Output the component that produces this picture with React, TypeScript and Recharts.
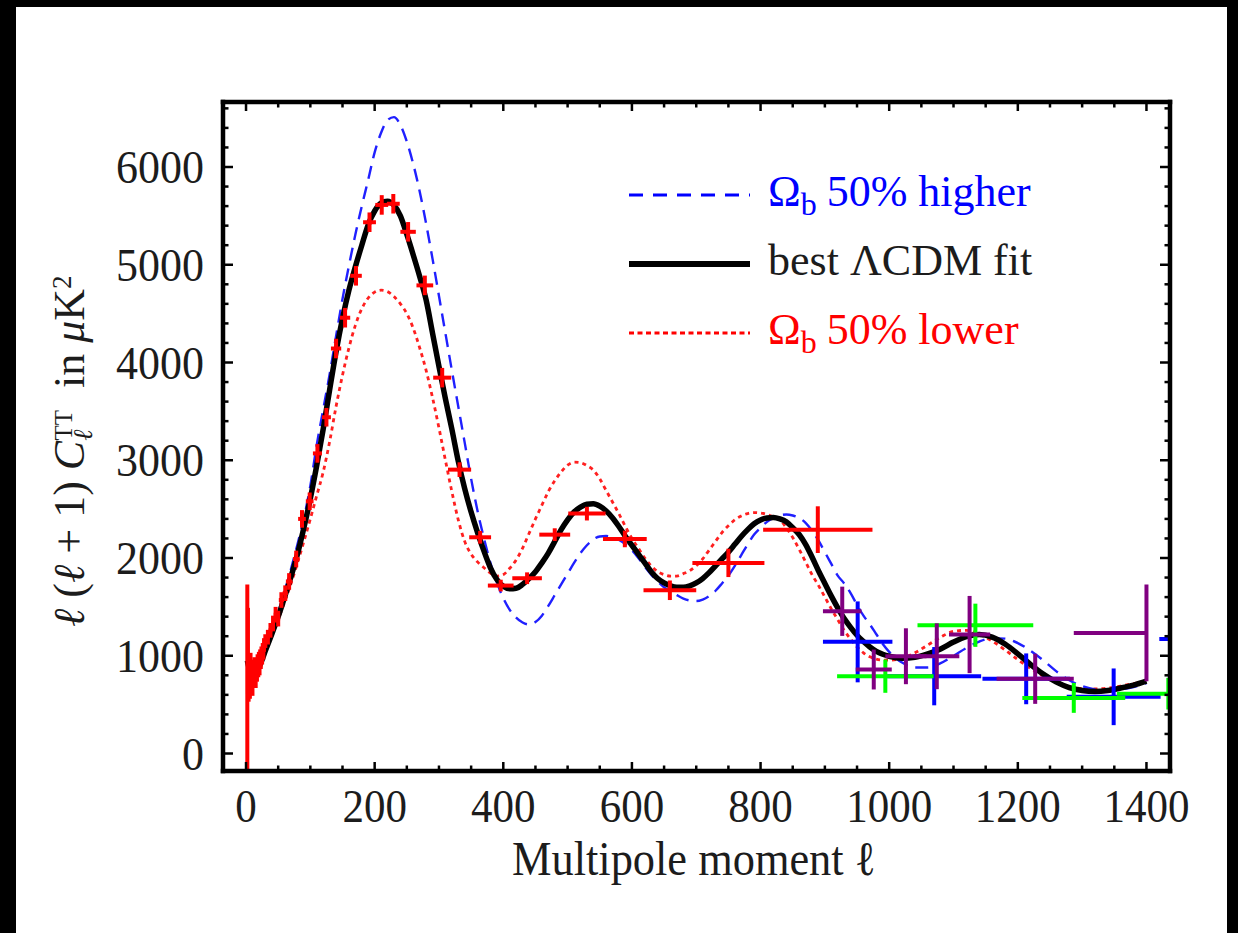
import React from 'react';
import { ComposedChart, Line, Scatter, ErrorBar, XAxis, YAxis, Legend } from 'recharts';

// ---------- data ----------
const X_TICKS = [0, 50, 100, 150, 200, 250, 300, 350, 400, 450, 500, 550, 600, 650, 700, 750, 800, 850, 900, 950, 1000, 1050, 1100, 1150, 1200, 1250, 1300, 1350, 1400];
const Y_TICKS = [0, 200, 400, 600, 800, 1000, 1200, 1400, 1600, 1800, 2000, 2200, 2400, 2600, 2800, 3000, 3200, 3400, 3600, 3800, 4000, 4200, 4400, 4600, 4800, 5000, 5200, 5400, 5600, 5800, 6000, 6200, 6400, 6600];

// best LambdaCDM fit  [l, l(l+1)C_l]
const bestFitCurve = [
  [2, 950], [5, 870], [10, 820], [15, 830], [20, 880], [25, 960], [30, 1050], [40, 1220], [50, 1400], [60, 1600],
  [70, 1810], [80, 2040], [90, 2310], [100, 2610], [110, 2950], [120, 3320], [130, 3720], [140, 4110], [150, 4450], [160, 4740],
  [170, 4980], [180, 5200], [190, 5410], [200, 5550], [210, 5630], [220, 5650], [230, 5610], [240, 5500], [250, 5310], [260, 5100],
  [270, 4880], [280, 4640], [290, 4300], [300, 3960], [310, 3630], [320, 3320], [330, 2990], [340, 2710], [350, 2470], [360, 2260],
  [370, 2070], [380, 1900], [390, 1780], [400, 1710], [410, 1685], [420, 1690], [430, 1730], [440, 1790], [450, 1860], [460, 1950],
  [470, 2050], [480, 2170], [490, 2290], [500, 2390], [510, 2470], [520, 2520], [530, 2550], [540, 2555], [550, 2530], [560, 2480],
  [570, 2410], [580, 2320], [590, 2220], [600, 2130], [610, 2040], [620, 1950], [630, 1860], [640, 1790], [650, 1745], [660, 1715],
  [670, 1700], [680, 1700], [690, 1715], [700, 1745], [710, 1790], [720, 1850], [730, 1920], [740, 1990], [750, 2060], [760, 2140],
  [770, 2220], [780, 2290], [790, 2350], [800, 2390], [810, 2410], [820, 2415], [830, 2400], [840, 2370], [850, 2310], [860, 2240],
  [870, 2140], [880, 2010], [890, 1870], [900, 1740], [910, 1610], [920, 1490], [930, 1380], [940, 1290], [950, 1210], [960, 1145],
  [970, 1090], [980, 1045], [990, 1015], [1000, 995], [1020, 975], [1040, 985], [1060, 1020], [1080, 1070], [1100, 1140], [1120, 1195],
  [1140, 1217], [1160, 1190], [1180, 1120], [1200, 1020], [1220, 910], [1240, 810], [1260, 730], [1280, 675], [1300, 645], [1320, 635],
  [1340, 645], [1360, 670], [1380, 700], [1400, 740],
];

// Omega_b 50% higher
const higherCurve = [
  [2, 950], [5, 870], [10, 820], [15, 830], [20, 880], [25, 965], [30, 1060], [40, 1240], [50, 1440], [60, 1660],
  [70, 1890], [80, 2140], [90, 2410], [100, 2740], [110, 3160], [120, 3520], [130, 3880], [140, 4270], [150, 4650], [160, 4990],
  [170, 5310], [180, 5600], [190, 5870], [200, 6150], [210, 6350], [220, 6480], [230, 6510], [240, 6430], [250, 6260], [260, 6030],
  [270, 5750], [280, 5420], [290, 5060], [300, 4680], [310, 4300], [320, 3920], [330, 3550], [340, 3180], [350, 2810], [360, 2480],
  [370, 2200], [380, 1950], [390, 1750], [400, 1590], [410, 1470], [420, 1390], [430, 1340], [440, 1320], [450, 1345], [460, 1410],
  [470, 1510], [480, 1620], [490, 1730], [500, 1840], [510, 1950], [520, 2050], [530, 2130], [540, 2190], [550, 2220], [560, 2225],
  [570, 2210], [580, 2185], [590, 2140], [600, 2080], [610, 2000], [620, 1910], [630, 1830], [640, 1760], [650, 1700], [660, 1660],
  [670, 1620], [680, 1585], [690, 1565], [700, 1560], [710, 1575], [720, 1610], [730, 1665], [740, 1740], [750, 1820], [760, 1920],
  [770, 2030], [780, 2140], [790, 2240], [800, 2310], [810, 2370], [820, 2410], [830, 2435], [840, 2445], [850, 2435], [860, 2410],
  [870, 2360], [880, 2280], [890, 2180], [900, 2060], [910, 1940], [920, 1820], [930, 1740], [940, 1640], [950, 1520], [960, 1410],
  [970, 1320], [980, 1220], [990, 1120], [1000, 1040], [1020, 930], [1040, 880], [1060, 880], [1080, 925], [1100, 1000], [1120, 1080],
  [1140, 1145], [1160, 1180], [1180, 1175], [1200, 1130], [1220, 1050], [1240, 950], [1260, 840], [1280, 750], [1300, 690], [1320, 655],
  [1340, 645], [1360, 655], [1380, 680], [1400, 720],
];

// Omega_b 50% lower
const lowerCurve = [
  [2, 950], [5, 870], [10, 820], [15, 830], [20, 875], [25, 950], [30, 1040], [40, 1200], [50, 1370], [60, 1550],
  [70, 1740], [80, 1950], [90, 2170], [100, 2400], [110, 2640], [120, 2880], [130, 3190], [140, 3550], [150, 3870], [160, 4150],
  [170, 4380], [180, 4550], [190, 4660], [200, 4720], [210, 4740], [220, 4725], [230, 4675], [240, 4600], [250, 4500], [260, 4350],
  [270, 4150], [280, 3920], [290, 3640], [300, 3330], [310, 3000], [320, 2680], [330, 2390], [340, 2170], [350, 2040], [360, 1960],
  [370, 1900], [380, 1845], [390, 1815], [400, 1830], [410, 1895], [420, 1980], [430, 2100], [440, 2250], [450, 2400], [460, 2540],
  [470, 2680], [480, 2790], [490, 2880], [500, 2950], [510, 2980], [520, 2975], [530, 2945], [540, 2900], [550, 2810], [560, 2690],
  [570, 2570], [580, 2450], [590, 2320], [600, 2200], [610, 2100], [620, 2000], [630, 1920], [640, 1860], [650, 1830], [660, 1815],
  [670, 1815], [680, 1840], [690, 1870], [700, 1920], [710, 1990], [720, 2080], [730, 2170], [740, 2260], [750, 2330], [760, 2390],
  [770, 2430], [780, 2455], [790, 2465], [800, 2460], [810, 2445], [820, 2420], [830, 2390], [840, 2310], [850, 2210], [860, 2090],
  [870, 1960], [880, 1830], [890, 1720], [900, 1600], [910, 1480], [920, 1370], [930, 1260], [940, 1170], [950, 1090], [960, 1030],
  [970, 990], [980, 965], [990, 955], [1000, 955], [1020, 975], [1040, 1030], [1060, 1110], [1080, 1190], [1100, 1250], [1120, 1260],
  [1140, 1220], [1160, 1150], [1180, 1060], [1200, 960], [1220, 870], [1240, 790], [1260, 725], [1280, 685], [1300, 665], [1320, 660],
  [1340, 670], [1360, 690], [1380, 715], [1400, 740],
];

// measurements [l, value, half-width in l, half-height in value]
const wmapPoints = [
  [2, 780, 0, 950], [3, 1050, 0, 440], [4, 760, 0, 230], [5, 850, 0, 170], [6, 700, 0, 140],
  [7, 900, 0, 130], [8, 760, 0, 120], [9, 830, 0, 110], [10, 700, 0, 110], [11, 860, 0, 100],
  [12, 780, 0, 100], [13, 890, 0, 95], [14, 800, 0, 95], [15, 760, 0, 90], [16, 880, 0, 90],
  [17, 820, 0, 85], [18, 930, 0, 85], [19, 860, 0, 80], [20, 960, 0, 80], [21, 880, 0, 80],
  [22, 990, 0, 75], [23, 940, 0, 75], [24, 1020, 0, 75], [25, 980, 0, 70], [26, 1060, 0, 70],
  [27, 1030, 0, 70], [28, 1110, 0, 70], [30, 1150, 0, 70],
  [34, 1190, 3, 75], [38, 1260, 3, 75], [42, 1330, 3, 80], [46, 1420, 3, 80], [50, 1380, 3, 80],
  [55, 1570, 4, 80], [61, 1640, 4, 80], [67, 1760, 5, 85], [78, 1990, 5, 85], [87, 2400, 6, 90],
  [99, 2580, 6, 90], [111, 3070, 7, 95], [125, 3440, 7, 95], [140, 4143, 8, 100], [154, 4458, 8, 100],
  [171, 4887, 9, 100], [192, 5435, 10, 100], [211, 5612, 10, 100], [229, 5624, 10, 100], [252, 5337, 12, 100],
  [278, 4789, 13, 100], [305, 3845, 14, 100], [332, 2904, 18, 75], [364, 2212, 17, 65], [396, 1718, 20, 60],
  [437, 1793, 23, 60], [480, 2239, 24, 65], [530, 2454, 29, 70], [589, 2195, 34, 85], [659, 1670, 41, 100],
  [750, 1950, 56, 145], [889, 2290, 85, 239],
];
const bluePoints = [
  [951, 1142, 54, 414], [1070, 791, 73, 298], [1213, 764, 68, 260], [1349, 580, 73, 290], [1480, 1172, 60, 300],
];
const greenPoints = [
  [994, 791, 75, 170], [1134, 1312, 90, 221], [1287, 569, 80, 153], [1434, 612, 80, 162],
];
const purplePoints = [
  [927, 1455, 30, 252], [976, 859, 28, 204], [1026, 995, 32, 286], [1074, 995, 35, 337],
  [1125, 1217, 32, 395], [1227, 764, 60, 256], [1400, 1234, [113, 0], 495],
];

// ---------- helpers ----------
const toLine = (arr: number[][]) => arr.map(([l, v]) => ({ l, v }));
const toErr = (arr: any[][]) => arr.map(([l, v, ex, ey]) => ({ l, v, ex, ey }));

const SERIF = '"Liberation Serif", "Times New Roman", Times, serif';
const INK = '#1c1c1c';
const RED = '#ff0000';
const BLUE = '#0000ff';
const GREEN = '#00ff00';
const PURPLE = '#800080';

// plot frame (px)
const PLOT_L = 223;
const PLOT_R = 1170;
const PLOT_T = 102;
const PLOT_B = 771;

const X_DOMAIN: [number, number] = [-35.8, 1436.6];
const Y_DOMAIN: [number, number] = [-179, 6665];
const AXIS_LINE = { stroke: '#000', strokeWidth: 4.5, strokeLinecap: 'square' as const };

const XBottomTick = (p: any) => {
  const { x, y, payload } = p;
  const v = payload.value;
  const major = v % 200 === 0;
  const s = String(v);
  return (
    <g>
      <line x1={x} x2={x} y1={y} y2={y - (major ? 9 : 5.5)} stroke="#000" strokeWidth={2.5} />
      {major && (
        <text x={x} y={y + 51} textAnchor="middle" fontFamily={SERIF} fontSize={46} fill={INK}
          textLength={s.length * 21.5} lengthAdjust="spacingAndGlyphs">{s}</text>
      )}
    </g>
  );
};
const XTopTick = (p: any) => {
  const { x, y, payload } = p;
  const major = payload.value % 200 === 0;
  return <line x1={x} x2={x} y1={y} y2={y + (major ? 9 : 5.5)} stroke="#000" strokeWidth={2.5} />;
};
const YLeftTick = (p: any) => {
  const { x, y, payload } = p;
  const v = payload.value;
  const major = v % 1000 === 0;
  const s = String(v);
  return (
    <g>
      <line x1={x} x2={x + (major ? 10 : 5.5)} y1={y} y2={y} stroke="#000" strokeWidth={2.5} />
      {major && (
        <text x={x - 19} y={y + 16} textAnchor="end" fontFamily={SERIF} fontSize={46} fill={INK}
          textLength={s.length * 22} lengthAdjust="spacingAndGlyphs">{s}</text>
      )}
    </g>
  );
};
const YRightTick = (p: any) => {
  const { x, y, payload } = p;
  const major = payload.value % 1000 === 0;
  return <line x1={x} x2={x - (major ? 10 : 5.5)} y1={y} y2={y} stroke="#000" strokeWidth={2.5} />;
};

const renderXTitle = () => (
  <text x={694} y={875} textAnchor="middle" fontFamily={SERIF} fontSize={48} fill={INK}
    textLength={364} lengthAdjust="spacingAndGlyphs">
    {'Multipole moment ℓ'}
  </text>
);

const renderYTitle = () => (
  <text transform="translate(84,627) rotate(-90)" fontFamily={SERIF} fontSize={44} fill={INK}>
    <tspan fontStyle="italic">ℓ</tspan>
    <tspan>{' ('}</tspan>
    <tspan fontStyle="italic">ℓ</tspan>
    <tspan>{' + 1) '}</tspan>
    <tspan fontStyle="italic">C</tspan>
    <tspan fontStyle="italic" fontSize={27} dy={8}>ℓ</tspan>
    <tspan fontSize={25} dx={-11} dy={-20.5}>TT</tspan>
    <tspan dy={12.5}>{'\u00a0\u00a0in\u00a0'}</tspan>
    <tspan fontStyle="italic">μ</tspan>
    <tspan>K</tspan>
    <tspan fontSize={27} dy={-13}>2</tspan>
  </text>
);

const renderLegend = () => (
  <svg width={470} height={210} style={{ display: 'block', overflow: 'visible' }}>
    <line x1={9} x2={130} y1={35} y2={35} stroke={BLUE} strokeWidth={3} strokeDasharray="14 10" />
    <text x={148} y={46} fontFamily={SERIF} fontSize={44} fill={BLUE}>
      Ω<tspan fontSize={32} dy={9}>b</tspan><tspan dx={10} dy={-9}>50% higher</tspan>
    </text>
    <line x1={9} x2={130} y1={104} y2={104} stroke="#000" strokeWidth={6} />
    <text x={148} y={115} fontFamily={SERIF} fontSize={44} fill={INK}>best ΛCDM fit</text>
    <line x1={9} x2={130} y1={173} y2={173} stroke={RED} strokeWidth={3} strokeDasharray="5 3.5" />
    <text x={148} y={184} fontFamily={SERIF} fontSize={44} fill={RED}>
      Ω<tspan fontSize={32} dy={9}>b</tspan><tspan dx={10} dy={-9}>50% lower</tspan>
    </text>
  </svg>
);

const NoShape = () => <g />;

export default function App() {
  const best = toLine(bestFitCurve);
  const hi = toLine(higherCurve);
  const lo = toLine(lowerCurve);
  const sets = [
    { key: 'wmap', data: toErr(wmapPoints), color: RED },
    { key: 'blue', data: toErr(bluePoints), color: BLUE },
    { key: 'green', data: toErr(greenPoints), color: GREEN },
    { key: 'purple', data: toErr(purplePoints), color: PURPLE },
  ];
  return (
    <div style={{ position: 'absolute', left: 0, top: 0, width: 1238, height: 933, background: '#fff', overflow: 'hidden' }}>
      <style>{`.recharts-errorBars, .recharts-errorBar { clip-path: url(#plotClipArea); }`}</style>
      <svg width={0} height={0} style={{ position: 'absolute' }}>
        <defs>
          <clipPath id="plotClipArea" clipPathUnits="userSpaceOnUse">
            <rect x={PLOT_L} y={PLOT_T} width={PLOT_R - PLOT_L} height={PLOT_B - PLOT_T} />
          </clipPath>
        </defs>
      </svg>
      <div style={{ position: 'absolute', left: 0, top: 0 }}>
        <ComposedChart width={1238} height={933}
          margin={{ top: PLOT_T - 1, right: 1238 - PLOT_R - 1, bottom: 933 - PLOT_B - 1, left: PLOT_L - 1 }}>
          <XAxis xAxisId="b" dataKey="l" type="number" orientation="bottom" domain={X_DOMAIN} allowDataOverflow
            ticks={X_TICKS} interval={0} tickSize={0} tickMargin={0} tickLine={false} axisLine={AXIS_LINE}
            tick={(p: any) => <XBottomTick {...p} />} height={1} label={renderXTitle} />
          <XAxis xAxisId="t" dataKey="l" type="number" orientation="top" domain={X_DOMAIN} allowDataOverflow
            ticks={X_TICKS} interval={0} tickSize={0} tickMargin={0} tickLine={false} axisLine={AXIS_LINE}
            tick={(p: any) => <XTopTick {...p} />} height={1} />
          <YAxis yAxisId="l" dataKey="v" type="number" orientation="left" domain={Y_DOMAIN} allowDataOverflow
            ticks={Y_TICKS} interval={0} tickSize={0} tickMargin={0} tickLine={false} axisLine={AXIS_LINE}
            tick={(p: any) => <YLeftTick {...p} />} width={1} label={renderYTitle} />
          <YAxis yAxisId="r" dataKey="v" type="number" orientation="right" domain={Y_DOMAIN} allowDataOverflow
            ticks={Y_TICKS} interval={0} tickSize={0} tickMargin={0} tickLine={false} axisLine={AXIS_LINE}
            tick={(p: any) => <YRightTick {...p} />} width={1} />
          <Line xAxisId="b" yAxisId="l" data={lo} dataKey="v" type="monotone" stroke="#ff2020" strokeWidth={2.8}
            strokeDasharray="4 4" dot={false} activeDot={false} isAnimationActive={false} />
          <Line xAxisId="b" yAxisId="l" data={hi} dataKey="v" type="monotone" stroke="#2020ff" strokeWidth={2.4}
            strokeDasharray="13 8" dot={false} activeDot={false} isAnimationActive={false} />
          <Line xAxisId="b" yAxisId="l" data={best} dataKey="v" type="monotone" stroke="#000" strokeWidth={5.5}
            dot={false} activeDot={false} isAnimationActive={false} />
          {sets.map((s) => (
            <Scatter key={s.key} xAxisId="b" yAxisId="l" data={s.data} dataKey="v" fill={s.color}
              shape={NoShape} isAnimationActive={false}>
              <ErrorBar dataKey="ey" direction="y" width={0} stroke={s.color} strokeWidth={4} isAnimationActive={false} />
              <ErrorBar dataKey="ex" direction="x" width={0} stroke={s.color} strokeWidth={4} isAnimationActive={false} />
            </Scatter>
          ))}
          <Legend layout="vertical" align="center" verticalAlign="middle" content={renderLegend}
            wrapperStyle={{ left: 620, top: 160, width: 470, height: 210 }} />
        </ComposedChart>
      </div>
      <div style={{ position: 'absolute', left: 0, top: 0, width: 16, height: 933, background: '#000' }} />
      <div style={{ position: 'absolute', left: 0, top: 0, width: 1238, height: 7, background: '#000' }} />
      <div style={{ position: 'absolute', left: 1227, top: 0, width: 11, height: 933, background: '#000' }} />
    </div>
  );
}
